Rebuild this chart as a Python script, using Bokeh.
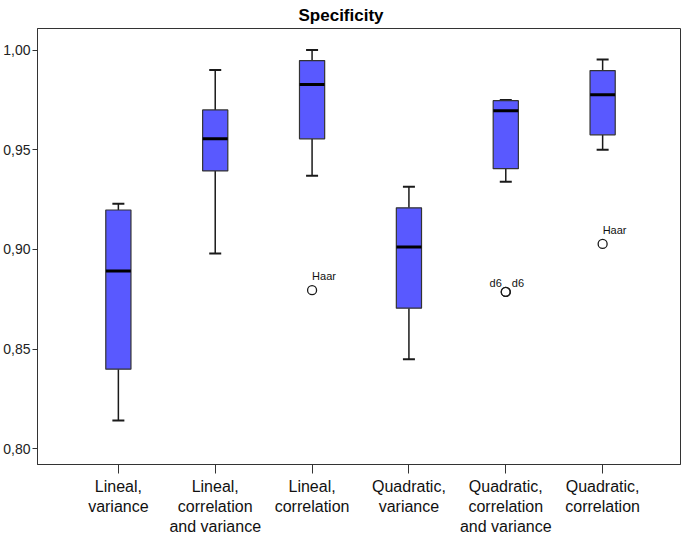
from bokeh.plotting import figure
from bokeh.models import Range1d, FixedTicker, ColumnDataSource
from bokeh.core.properties import value
from bokeh.embed import file_html
from bokeh.resources import INLINE

# ---- data ----
categories = ["Lineal,\nvariance",
              "Lineal,\ncorrelation\nand variance",
              "Lineal,\ncorrelation",
              "Quadratic,\nvariance",
              "Quadratic,\ncorrelation\nand variance",
              "Quadratic,\ncorrelation"]
whisker_low = [0.8143, 0.898, 0.937, 0.845, 0.934, 0.950]
q1 = [0.840, 0.9394, 0.9555, 0.8706, 0.9405, 0.9575]
median = [0.8892, 0.9555, 0.9827, 0.9013, 0.9696, 0.9776]
q3 = [0.9198, 0.970, 0.9947, 0.9209, 0.9746, 0.9897]
whisker_high = [0.9229, 0.990, 1.000, 0.9314, 0.975, 0.9952]

outlier_cat = [3, 5, 5, 6]
outlier_val = [0.8796, 0.8787, 0.8787, 0.9028]
outlier_label = ["Haar", "d6", "d6", "Haar"]

y_ticks = [0.80, 0.85, 0.90, 0.95, 1.00]
y_tick_labels = ["0,80", "0,85", "0,90", "0,95", "1,00"]
title_text = "Specificity"

# ---- styling ----
FONT = "Liberation Sans"
BOX_FILL = "#5959FF"
INK = "#1a1a1a"
BOX_W = 0.26

xs = list(range(1, len(categories) + 1))

p = figure(width=682, height=538, output_backend="svg", toolbar_location=None,
           x_range=Range1d(0.165, 6.804), y_range=Range1d(0.7922, 1.0108),
           min_border_left=36, min_border_right=2, min_border_top=28,
           min_border_bottom=72)

p.title.text = title_text
p.title.text_font = FONT
p.title.text_font_size = "17px"
p.title.text_font_style = "bold"
p.title.text_color = "#000000"
p.title.align = "left"
p.title.offset = 261
p.title.standoff = 7

p.xgrid.visible = False
p.ygrid.visible = False
p.outline_line_color = "#333333"
p.outline_line_width = 1
p.background_fill_color = "white"
p.border_fill_color = "white"

src = ColumnDataSource(dict(x=xs, lo=whisker_low, q1=q1, med=median, q3=q3, hi=whisker_high))

# whiskers
p.segment(x0="x", y0="lo", x1="x", y1="q1", source=src, line_color=INK, line_width=1.5)
p.segment(x0="x", y0="q3", x1="x", y1="hi", source=src, line_color=INK, line_width=1.5)
# caps
p.scatter(x="x", y="lo", source=src, marker="dash", size=12, line_color=INK, line_width=2)
p.scatter(x="x", y="hi", source=src, marker="dash", size=12, line_color=INK, line_width=2)
# boxes
p.vbar(x="x", bottom="q1", top="q3", width=BOX_W, source=src,
       fill_color=BOX_FILL, line_color="#333333", line_width=1.2)
# medians
p.scatter(x="x", y="med", source=src, marker="dash", size=25, line_color="#000000", line_width=3)

# outliers
osrc = ColumnDataSource(dict(x=outlier_cat, y=outlier_val))
p.scatter(x="x", y="y", source=osrc, marker="circle", size=9, fill_color="white",
          fill_alpha=0, line_color=INK, line_width=1.3)

# outlier labels: a repeated point gets its labels left and right of the marker
for i, (cx, cy, lab) in enumerate(zip(outlier_cat, outlier_val, outlier_label)):
    same = [j for j in range(len(outlier_cat))
            if outlier_cat[j] == cx and outlier_val[j] == cy]
    if len(same) > 1 and same.index(i) == 0:
        align, xo, yo = "right", -4, -9
    elif len(same) > 1:
        align, xo, yo = "left", 6, -9
    else:
        align, xo, yo = "left", 0, -14
    p.text(x=[cx], y=[cy], text=[lab], text_font=value(FONT), text_font_size="11px",
           text_color="#111111", text_align=align, text_baseline="middle",
           x_offset=xo, y_offset=yo)

# axes
p.xaxis.ticker = FixedTicker(ticks=xs)
p.xaxis.major_label_overrides = {x: c for x, c in zip(xs, categories)}
p.xaxis.major_label_text_font = FONT
p.xaxis.major_label_text_font_size = "16px"
p.xaxis.major_label_text_color = "#111111"
p.xaxis.major_label_standoff = 4
p.xaxis.major_tick_out = 9
p.xaxis.major_tick_in = 0
p.xaxis.minor_tick_line_color = None
p.xaxis.axis_line_color = "#333333"
p.xaxis.major_tick_line_color = "#333333"

p.yaxis.ticker = FixedTicker(ticks=y_ticks)
p.yaxis.major_label_overrides = {t: l for t, l in zip(y_ticks, y_tick_labels)}
p.yaxis.major_label_text_font = FONT
p.yaxis.major_label_text_font_size = "14px"
p.yaxis.major_label_text_color = "#222222"
p.yaxis.major_label_standoff = 2
p.yaxis.major_tick_out = 5
p.yaxis.major_tick_in = 0
p.yaxis.minor_tick_line_color = None
p.yaxis.axis_line_color = "#333333"
p.yaxis.major_tick_line_color = "#333333"

open("out.html", "w").write(file_html(p, INLINE))
